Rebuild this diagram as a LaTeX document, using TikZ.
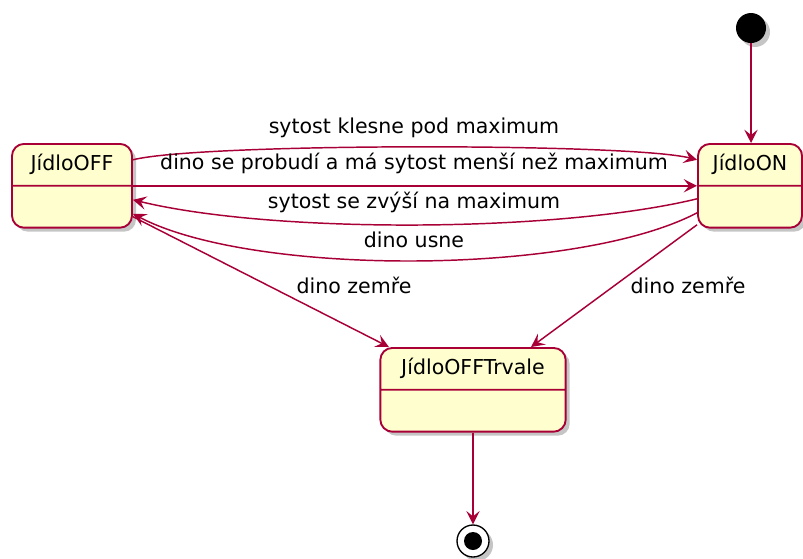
\documentclass[tikz,border=0pt]{standalone}
\usepackage{fontspec}
\setmainfont{DejaVu Sans}
\usepackage{tikz}
\usetikzlibrary{calc, arrows.meta, shapes.multipart, shadows}
\definecolor{umlred}{RGB}{168, 0, 54}
\definecolor{umlfill}{RGB}{254, 254, 206}
\newcommand{\umltext}{\fontsize{15.4}{18}\selectfont}
\tikzset{>={Stealth[length=10pt, width=10pt, inset=4pt]}}
\tikzset{
  state/.style = {rectangle split, rectangle split parts=2, rounded corners=9pt,
    draw=umlred, fill=umlfill, line width=1.4pt, inner xsep=10pt, inner ysep=7pt,
    text height=12pt, text depth=4pt, rectangle split empty part height=12pt,
    rectangle split empty part depth=4pt, font=\umltext,
    drop shadow={shadow xshift=3pt, shadow yshift=-3pt, fill=black!45, opacity=0.5}},
  trans/.style = {->, draw=umlred, line width=1.1pt},
  lbl/.style = {inner sep=0pt, font=\umltext}
}

\begin{document}
\begin{tikzpicture}[x=0.75pt, y=-0.75pt]
\useasboundingbox (0,0) rectangle (803,558);
\node[state, anchor=north, minimum width=90pt] (off) at (72,143) {JídloOFF};
\node[state, anchor=north, minimum width=78pt] (on) at (750,143) {JídloON};
\node[state, anchor=north, minimum width=139pt] (trvale) at (473,347) {JídloOFFTrvale};
\node[circle, fill=black, minimum size=22.5pt, inner sep=0pt,
  drop shadow={shadow xshift=3pt, shadow yshift=-3pt, fill=black!45, opacity=0.5}] (init) at (751,28) {};
\node[circle, draw=black, fill=white, line width=1pt, minimum size=24pt, inner sep=0pt,
  drop shadow={shadow xshift=3pt, shadow yshift=-3pt, fill=black!45, opacity=0.5}] (final) at (473,541) {};
\fill (final) circle (6.75pt);
\draw[trans] (init) -- (init |- on.north);
\draw[trans] ($(off.east)+(0,-26)$) .. controls +(67,-17) and +(-67,-17) .. ($(on.west)+(0,-26)$);
\draw[trans] (off.east) -- (on.west);
\draw[trans] ($(on.west)+(0,13)$) .. controls +(-140,34) and +(140,34) .. ($(off.east)+(0,14)$);
\draw[trans] ($(on.west)+(0,27)$) .. controls +(-120,63) and +(120,63) .. ($(off.east)+(0,28)$);
\draw[trans] (off) -- (trvale);
\draw[trans] (on) -- (trvale);
\draw[trans] (trvale) -- (final);
\node[lbl] (klesne) at (414,128) {sytost klesne pod maximum};
\node[lbl] (probudi) at (414,163) {dino se probudí a má sytost menší než maximum};
\node[lbl] (zvysi) at (414,202) {sytost se zvýší na maximum};
\node[lbl] (usne) at (414,240) {dino usne};
\node[lbl] (zemreA) at (354,285) {dino zemře};
\node[lbl] (zemreB) at (688,285) {dino zemře};
\end{tikzpicture}
\end{document}
